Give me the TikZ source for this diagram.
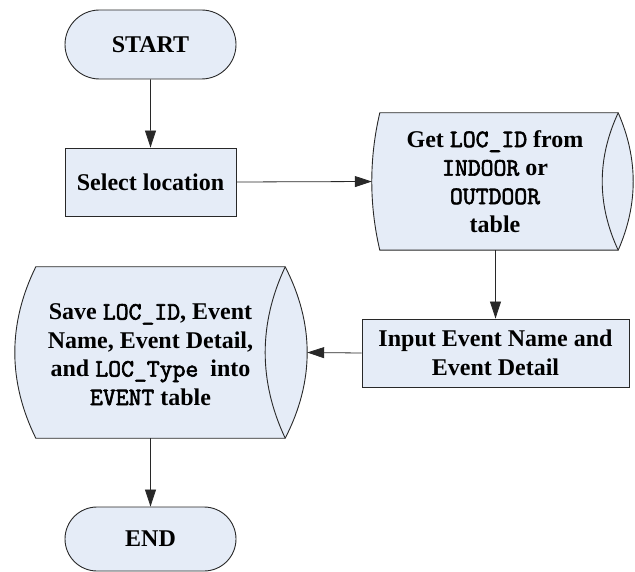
\documentclass[tikz,border=0pt]{standalone}
\usepackage{fontspec}
\setmainfont{Liberation Serif}
\newfontfamily\codefont[FakeBold=2.5]{Latin Modern Mono}
\usetikzlibrary{shapes.misc,arrows.meta,calc,backgrounds}

\definecolor{boxfill}{RGB}{229,236,247}
\definecolor{boxline}{RGB}{40,40,40}

% monospaced table and field names
\newcommand{\code}[1]{{\fontsize{25}{28.5}\selectfont\codefont #1}}

% outline of a stored-data symbol round a node:
% #1 node, #2 third of height, #3 left bulge, #4 right bulge, #5 inner curve
\newcommand{\storedoutline}[5]{%
  \begin{scope}[on background layer]
    \draw[outline] (#1.north west) -- (#1.north east)
      .. controls +(#4,-#2) and +(#4,#2) .. (#1.south east)
      -- (#1.south west)
      .. controls +(#3,#2) and +(#3,-#2) .. cycle;
    \draw[boxline,line width=0.9pt] (#1.north east)
      .. controls +(#5,-#2) and +(#5,#2) .. (#1.south east);
  \end{scope}}

\tikzset{
  outline/.style={draw=boxline, fill=boxfill, line width=0.9pt},
  txt/.style={font=\fontsize{24}{28.5}\selectfont\bfseries, align=center, inner sep=0pt},
  terminal/.style={outline, txt, rounded rectangle, minimum width=171pt, minimum height=#1},
  process/.style={outline, txt, rectangle, minimum width=#1, minimum height=68pt},
  stored/.style={rectangle, inner sep=0pt, minimum width=#1},
  flow/.style={-{Triangle[length=17pt,width=11pt]}, line width=0.8pt, boxline}
}

\begin{document}
\begin{tikzpicture}[x=1pt,y=1pt]
  \useasboundingbox (0,0) rectangle (635,-572);

  % start and first step
  \node[terminal=69pt] (start) at (150.5,-44.5) {START};
  \node[process=171pt] (select) at (150.5,-182) {Select location};

  % lookup of the location
  \node[stored=238pt, minimum height=137pt] (get) at (499,-181.5) {};
  \node[txt] (gettxt) at ($(get.center)+(-4,0)$)
    {Get \code{LOC\_ID} from\\ \code{INDOOR} or\\ \code{OUTDOOR}\\ table};
  \storedoutline{get}{45.7}{-10.7}{20}{-21.3}

  % event input
  \node[process=267pt] (input) at (495.5,-353)
    {Input Event Name and\\ Event Detail};

  % saving
  \node[stored=249pt, minimum height=171pt] (save) at (160.5,-352.5) {};
  \node[txt] (savetxt) at ($(save.center)+(-10,-2)$)
    {Save \code{LOC\_ID}, Event\\ Name, Event Detail,\\ and \code{LOC\_Type}\ \ into\\ \code{EVENT} table};
  \storedoutline{save}{57}{-28}{29.3}{-26.7}

  \node[terminal=64pt] (end) at (150.5,-539) {END};

  % connectors
  \draw[flow] (start) -- (select);
  \draw[flow] (select.east) -- ($(get.west)+(-8,0)$);
  \draw[flow] (input.north |- get.south) -- (input.north);
  \draw[flow] (input.west) -- ($(save.east)+(22,0)$);
  \draw[flow] (end.north |- save.south) -- (end.north);
\end{tikzpicture}
\end{document}
